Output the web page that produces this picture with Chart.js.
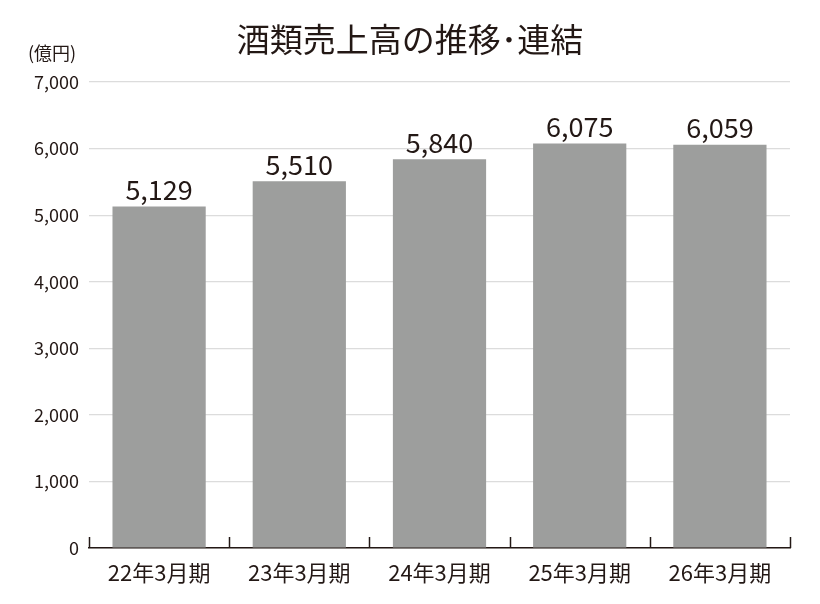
<!DOCTYPE html>
<html>
<head>
<meta charset="utf-8">
<script src="https://cdn.jsdelivr.net/npm/chart.js@4.4.1/dist/chart.umd.min.js"></script>
<style>
  html, body { margin: 0; padding: 0; background: #fff; }
  #wrap { width: 820px; height: 604px; }
</style>
</head>
<body>
<div id="wrap"><canvas id="myChart" width="820" height="604"></canvas></div>
<script>
// values (億円)
const periods = ['22年3月期', '23年3月期', '24年3月期', '25年3月期', '26年3月期'];
const sales = [5129, 5510, 5840, 6075, 6059];
const yTicks = [0, 1000, 2000, 3000, 4000, 5000, 6000, 7000];

const chartTitle = '酒類売上高の推移･連結';
const unitLabel = '(億円)';

const ink = '#231815';
const fontFamily = '"Noto Sans CJK JP", "Noto Sans", sans-serif';

// title, unit, value labels and the little upward ticks on the x axis
const extras = {
    id: 'extras',
    afterDraw(chart) {
        const ctx = chart.ctx;
        const x = chart.scales.x;
        const area = chart.chartArea;
        ctx.save();

        // upward tick marks at category edges
        ctx.strokeStyle = ink;
        ctx.lineWidth = 1.5;
        for (let i = 0; i <= periods.length; i++) {
            let px = Math.round(x.getPixelForValue(i - 0.5)) + 0.5;
            ctx.beginPath();
            ctx.moveTo(px, area.bottom);
            ctx.lineTo(px, area.bottom - 11);
            ctx.stroke();
        }

        // values above the bars
        ctx.fillStyle = ink;
        ctx.textAlign = 'center';
        ctx.textBaseline = 'bottom';
        ctx.font = '27px ' + fontFamily;
        const meta = chart.getDatasetMeta(0);
        meta.data.forEach((bar, i) => {
            ctx.fillText(sales[i].toLocaleString('en-US'), bar.x, bar.y - 3);
        });

        // title
        ctx.font = '33px ' + fontFamily;
        ctx.textBaseline = 'middle';
        ctx.fillText(chartTitle, 410, 39);

        // unit
        ctx.font = '18px ' + fontFamily;
        ctx.textAlign = 'left';
        ctx.fillText(unitLabel, 28, 53);

        ctx.restore();
    }
};

const ctx = document.getElementById('myChart').getContext('2d');
new Chart(ctx, {
    type: 'bar',
    data: {
        labels: periods,
        datasets: [{
            data: sales,
            backgroundColor: '#9d9e9d',
            barPercentage: 0.665,
            categoryPercentage: 1.0
        }]
    },
    options: {
        responsive: false,
        animation: false,
        layout: { padding: { top: 82, right: 30, left: 0, bottom: 0 } },
        plugins: {
            legend: { display: false },
            title: { display: false },
            tooltip: { enabled: false }
        },
        scales: {
            x: {
                offset: true,
                grid: { display: false, drawTicks: false },
                border: { display: true, color: ink, width: 1.5 },
                ticks: {
                    color: ink,
                    padding: 11,
                    font: { family: fontFamily, size: 22 }
                },
                afterFit: scale => { scale.height = 56; }
            },
            y: {
                min: 0,
                max: 7000,
                afterBuildTicks: scale => { scale.ticks = yTicks.map(v => ({ value: v })); },
                grid: { color: '#dcdcdc', lineWidth: 1.2, drawTicks: false },
                border: { display: false },
                ticks: {
                    color: ink,
                    padding: 10,
                    font: { family: fontFamily, size: 18 },
                    callback: v => v.toLocaleString('en-US')
                },
                afterFit: scale => { scale.width = 89; }
            }
        }
    },
    plugins: [extras]
});
</script>
</body>
</html>
